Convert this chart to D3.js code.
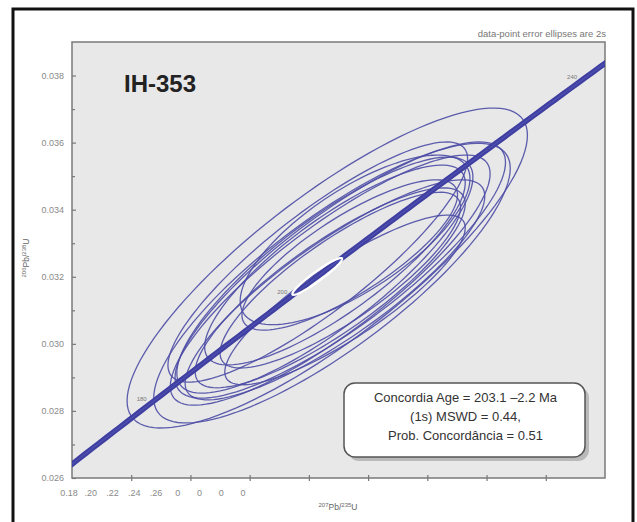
<!DOCTYPE html>
<html><head><meta charset="utf-8">
<script src="https://cdn.jsdelivr.net/npm/d3@7/dist/d3.min.js"></script>
<style>body{margin:0;background:#fff;}svg{display:block;font-family:Arial,"Liberation Sans",sans-serif;}</style>
</head><body><svg id="c" width="637" height="522"></svg>
<script>
// ---- data ----
const sampleName = "IH-353";
const ellX   = [0.2231, 0.2239, 0.2236, 0.2244, 0.2227, 0.2236, 0.2244, 0.2253, 0.2269, 0.2261, 0.2215, 0.2253, 0.2278];
const ellSX  = [0.0338, 0.0301, 0.0270, 0.0253, 0.0250, 0.0228, 0.0220, 0.0203, 0.0182, 0.0203, 0.0253, 0.0279, 0.0194];
const ellY   = [0.03226, 0.03181, 0.03190, 0.03161, 0.03205, 0.03167, 0.03235, 0.03190, 0.03265, 0.03131, 0.03244, 0.03220, 0.03310];
const ellSY  = [0.00477, 0.00417, 0.00373, 0.00328, 0.00352, 0.00298, 0.00298, 0.00262, 0.00224, 0.00253, 0.00358, 0.00382, 0.00253];
const ellRho = [0.83, 0.82, 0.85, 0.85, 0.83, 0.84, 0.82, 0.83, 0.80, 0.85, 0.86, 0.84, 0.72];
const concAge = {x: 0.2214, sx: 0.0042, y: 0.03201, sy: 0.00055, rho: 0.95};
const concordiaAges = [150, 260];        // Ma range of curve
const ageLabels = [180, 200, 240];
const yMajorTicks = [0.026, 0.028, 0.030, 0.032, 0.034, 0.036, 0.038];
const yMinorTicks = [0.027, 0.029, 0.031, 0.033, 0.035, 0.037];
const xMajorTicks = [0.19, 0.20, 0.21, 0.22, 0.23, 0.24, 0.25, 0.26];
const xTickText = ["0.18", ".20", ".22", ".24", ".26", "0", "0", "0", "0"];
const xDomain = [0.18, 0.27], yDomain = [0.026, 0.039];
const boxLines = ["Concordia Age = 203.1 \u20132.2 Ma", "(1s) MSWD = 0.44,", "Prob. Concord\u00e2ncia = 0.51"];
const noteText = "data-point error ellipses are 2s";

// ---- layout ----
const svg = d3.select("#c");
const L = 72, T = 42, R = 605, B = 478;
const x = d3.scaleLinear().domain(xDomain).range([L, R]);
const y = d3.scaleLinear().domain(yDomain).range([B, T]);
const l235 = 9.8485e-10, l238 = 1.55125e-10;

// outer frame
svg.append("rect").attr("x", 13).attr("y", 9).attr("width", 620).attr("height", 520)
  .attr("fill", "#fff").attr("stroke", "#111").attr("stroke-width", 3);

// plot background
svg.append("rect").attr("x", L).attr("y", T).attr("width", R - L).attr("height", B - T)
  .attr("fill", "#e8e8e8");
svg.append("defs").append("clipPath").attr("id", "clip")
  .append("rect").attr("x", L).attr("y", T).attr("width", R - L).attr("height", B - T);

// axes
const yAx = svg.append("g").attr("transform", `translate(${L},0)`)
  .call(d3.axisLeft(y).tickValues(yMajorTicks).tickFormat(d3.format(".3f")).tickSizeInner(-4).tickSizeOuter(0).tickPadding(8));
svg.append("g").attr("transform", `translate(${L},0)`)
  .call(d3.axisLeft(y).tickValues(yMinorTicks).tickFormat("").tickSizeInner(-3).tickSizeOuter(0))
  .select(".domain").remove();
const xAx = svg.append("g").attr("transform", `translate(0,${B})`)
  .call(d3.axisBottom(x).tickValues(xMajorTicks).tickFormat("").tickSizeInner(-3).tickSizeOuter(0));
xAx.selectAll(".tick line").attr("y2", 3).attr("y1", -3);
svg.selectAll(".domain").remove();
svg.selectAll(".tick line").attr("stroke", "#777").attr("stroke-width", 1.2);
yAx.selectAll(".tick text").attr("fill", "#8a8a8a").attr("font-size", 9);

// garbled x tick labels
const xl = d3.scalePoint().domain(d3.range(xTickText.length)).range([69, 243]);
svg.append("g").selectAll("text").data(xTickText).join("text")
  .attr("x", (d, i) => xl(i)).attr("y", 496).attr("text-anchor", "middle")
  .attr("font-size", 9).attr("fill", "#8a8a8a").text(d => d);

// plot border
svg.append("rect").attr("x", L).attr("y", T).attr("width", R - L).attr("height", B - T)
  .attr("fill", "none").attr("stroke", "#7a7a7a").attr("stroke-width", 1.5);

const plot = svg.append("g").attr("clip-path", "url(#clip)");

// ellipses
function ellPath(cx, sx, cy, sy, rho) {
  const pts = d3.range(0, 361, 3).map(a => {
    const t = a * Math.PI / 180;
    return [x(cx + sx * Math.cos(t)), y(cy + sy * (rho * Math.cos(t) + Math.sqrt(1 - rho * rho) * Math.sin(t)))];
  });
  return d3.line()(pts) + "Z";
}
plot.append("g").selectAll("path").data(ellX.map((d, i) => i)).join("path")
  .attr("d", i => ellPath(ellX[i], ellSX[i], ellY[i], ellSY[i], ellRho[i]))
  .attr("fill", "none").attr("stroke", "#4d4da6").attr("stroke-width", 1.3).attr("stroke-opacity", 0.9);

// concordia
const ts = d3.range(concordiaAges[0], concordiaAges[1] + 0.1, 1);
const cpts = ts.map(t => [x(Math.exp(l235 * t * 1e6) - 1), y(Math.exp(l238 * t * 1e6) - 1)]);
plot.append("path").attr("d", d3.line()(cpts)).attr("fill", "none")
  .attr("stroke", "#3f3fa2").attr("stroke-width", 5.5);
plot.append("path").attr("d", d3.line()(cpts)).attr("fill", "none")
  .attr("stroke", "#5050b0").attr("stroke-width", 1.2);

// concordia age ellipse
plot.append("path").attr("d", ellPath(concAge.x, concAge.sx, concAge.y, concAge.sy, concAge.rho))
  .attr("fill", "none").attr("stroke", "#fff").attr("stroke-width", 2.2);

// age labels
plot.append("g").selectAll("text").data(ageLabels).join("text")
  .attr("x", t => x(Math.exp(l235 * t * 1e6) - 1) - 8)
  .attr("y", t => y(Math.exp(l238 * t * 1e6) - 1) + 1)
  .attr("text-anchor", "end").attr("font-size", 6).attr("fill", "#777").text(d => d);

// title
svg.append("text").attr("x", 124).attr("y", 92).attr("font-size", 24).attr("font-weight", "bold")
  .attr("fill", "#222").text(sampleName);

// note
svg.append("text").attr("x", 606).attr("y", 37).attr("text-anchor", "end")
  .attr("font-size", 9.5).attr("fill", "#777").text(noteText);

// axis titles
const xt = svg.append("text").attr("x", 338).attr("y", 510).attr("text-anchor", "middle")
  .attr("font-size", 8.5).attr("fill", "#666");
xt.append("tspan").attr("font-size", 6).attr("dy", -3).text("207");
xt.append("tspan").attr("dy", 3).text("Pb/");
xt.append("tspan").attr("font-size", 6).attr("dy", -3).text("235");
xt.append("tspan").attr("dy", 3).text("U");
const yt = svg.append("text").attr("transform", "translate(29,258) rotate(-90)").attr("text-anchor", "middle")
  .attr("font-size", 8.5).attr("fill", "#666");
yt.append("tspan").attr("font-size", 6).attr("dy", -3).text("206");
yt.append("tspan").attr("dy", 3).text("Pb/");
yt.append("tspan").attr("font-size", 6).attr("dy", -3).text("238");
yt.append("tspan").attr("dy", 3).text("U");

// result box
const bx = 344, by = 383, bw = 241, bh = 74;
svg.append("rect").attr("x", bx + 4).attr("y", by + 4).attr("width", bw).attr("height", bh)
  .attr("rx", 11).attr("fill", "#9a9a9a").attr("opacity", 0.6);
svg.append("rect").attr("x", bx).attr("y", by).attr("width", bw).attr("height", bh)
  .attr("rx", 11).attr("fill", "#fff").attr("stroke", "#555").attr("stroke-width", 1.5);
svg.append("g").selectAll("text").data(boxLines).join("text")
  .attr("x", bx + bw / 2 + 1).attr("y", (d, i) => by + 19 + i * 19).attr("text-anchor", "middle")
  .attr("font-size", 13).attr("fill", "#333").text(d => d);
</script></body></html>
